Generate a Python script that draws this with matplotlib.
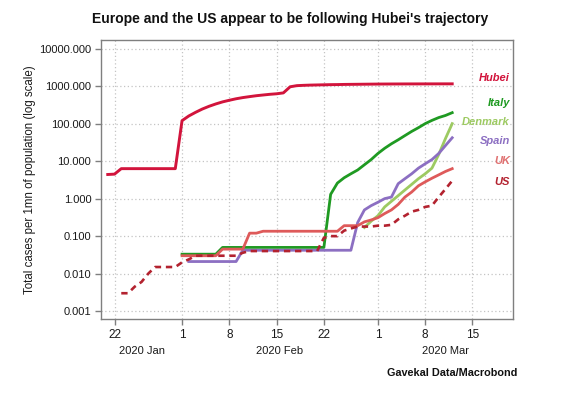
import numpy as np
import matplotlib
matplotlib.use('Agg')
import matplotlib.pyplot as plt
import matplotlib.dates as mdates
import matplotlib.transforms as mtransforms

plt.rcParams['font.family'] = ['Liberation Sans', 'DejaVu Sans']

# Total cases per 1mn of population, one value per day
HUBEI_START = '2020-01-21'
hubei = [4.4, 4.5, 6.3, 6.3, 6.3, 6.3, 6.3, 6.3, 6.3, 6.3, 6.3,
         120, 160, 200, 245, 290, 335, 380, 420, 460, 495, 525, 555, 580, 605,
         625, 660, 960, 1030, 1050, 1065, 1075, 1085, 1095, 1100, 1110, 1115,
         1120, 1125, 1130, 1135, 1138, 1140, 1142, 1144, 1145, 1146, 1147,
         1148, 1149, 1150, 1150]

ITALY_START = '2020-02-01'
italy = [0.033] * 6 + [0.05] * 16 + [1.3, 2.6, 3.6, 4.6, 5.8, 8.0, 11, 16, 22, 29,
                                     37, 48, 62, 78, 100, 122, 145, 165, 196]

SPAIN_START = '2020-02-02'
spain = [0.021] * 8 + [0.042] * 17 + [0.23, 0.5, 0.65, 0.8, 1.0, 1.1, 2.5, 3.4,
                                      4.6, 6.5, 8.5, 11, 16, 26, 42]

DENMARK_START = '2020-02-28'
denmark = [0.17, 0.25, 0.35, 0.6, 0.85, 1.2, 1.7, 2.4, 3.4, 4.6, 6.5, 15, 40, 100]

UK_START = '2020-02-01'
uk = [0.03] * 6 + [0.045] * 4 + [0.12] * 2 + [0.135] * 12 + [0.19] * 3 + \
     [0.24, 0.27, 0.31, 0.4, 0.5, 0.7, 1.1, 1.5, 2.2, 2.8, 3.5, 4.3, 5.3, 6.3]

US_START = '2020-01-23'
us = [0.003, 0.003, 0.0045, 0.006, 0.01] + [0.015] * 4 + [0.02, 0.024] + \
     [0.03] * 7 + [0.036] + [0.04] * 11 + \
     [0.09, 0.1, 0.1, 0.14, 0.16, 0.18, 0.18, 0.18,
      0.19, 0.19, 0.2, 0.28, 0.35, 0.45, 0.5, 0.6, 0.65, 1.1, 1.8, 3.0]

Y_TICKS = [0.001, 0.01, 0.1, 1, 10, 100, 1000, 10000]
X_TICKS = ['2020-01-22', '2020-02-01', '2020-02-08', '2020-02-15',
           '2020-02-22', '2020-03-01', '2020-03-08', '2020-03-15']
X_TICK_LABELS = ['22', '1', '8', '15', '22', '1', '8', '15']
MONTHS = [('2020-01-26', '2020 Jan'), ('2020-02-15 12:00', '2020 Feb'),
          ('2020-03-11', '2020 Mar')]

# (name, data, start, line colour, label colour, linestyle, label y in px)
SERIES = [
    ('Hubei', hubei, HUBEI_START, '#d2143c', '#d2143c', '-', 78),
    ('Italy', italy, ITALY_START, '#1f9a22', '#1f9a22', '-', 103),
    ('Denmark', denmark, DENMARK_START, '#9dca62', '#9dca62', '-', 122),
    ('Spain', spain, SPAIN_START, '#8c6fc2', '#8c6fc2', '-', 141),
    ('UK', uk, UK_START, '#de5a5a', '#e07272', '-', 161),
    ('US', us, US_START, '#b3222f', '#b3222f', '--', 182),
]


def dates_for(start, n):
    return np.datetime64(start, 'D') + np.arange(n)


W, H = 563, 395
fig = plt.figure(figsize=(W / 100, H / 100), dpi=100)
ax = fig.add_axes([101 / W, 1 - 319 / H, (513 - 101) / W, (319 - 40) / H])

for name, data, start, color, lcolor, ls, ly in SERIES:
    d = dates_for(start, len(data))
    if ls == '--':
        ax.plot(d, data, color=color, lw=1.9, linestyle=(0, (2.4, 1.8)))
    else:
        ax.plot(d, data, color=color, lw=2.0 if name != 'Hubei' else 2.1)
    fig.text(510 / W, 1 - ly / H, name, color=lcolor, fontsize=8,
             fontweight='bold', fontstyle='italic', ha='right', va='center')

ax.set_yscale('log')
ax.set_ylim(10 ** -3.21, 10 ** 4.23)
ax.set_yticks(Y_TICKS)
ax.set_yticklabels(['%.3f' % v for v in Y_TICKS])
ax.yaxis.set_minor_locator(matplotlib.ticker.NullLocator())

ax.set_xlim(np.datetime64('2020-01-20'), np.datetime64('2020-03-21'))
ax.set_xticks([np.datetime64(t) for t in X_TICKS])
ax.set_xticklabels(X_TICK_LABELS)

ax.grid(True, color='#c4c4c4', linestyle=(0, (1, 2)), lw=0.9)
for sp in ax.spines.values():
    sp.set_color('#7f7f7f')
    sp.set_linewidth(1.0)
ax.tick_params(axis='both', length=4, width=1, color='#7f7f7f',
               labelsize=8, labelcolor='#1a1a1a', pad=3)
ax.tick_params(axis='x', labelsize=8.5)

trans = mtransforms.blended_transform_factory(ax.transData, fig.transFigure)
for d, lab in MONTHS:
    ax.text(mdates.date2num(np.datetime64(d)), 1 - 351 / H, lab, transform=trans,
            ha='center', va='center', fontsize=8, color='#1a1a1a')

ax.set_ylabel('Total cases per 1mn of population (log scale)', fontsize=8.3,
              color='#1a1a1a', labelpad=2)

fig.text(290 / W, 1 - 19 / H,
         "Europe and the US appear to be following Hubei's trajectory",
         ha='center', va='center', fontsize=10, fontweight='bold', color='#111111')
fig.text(517 / W, 1 - 373 / H, 'Gavekal Data/Macrobond', ha='right', va='center',
         fontsize=7.8, fontweight='bold', color='#111111')

fig.savefig('out.png', dpi=100)
